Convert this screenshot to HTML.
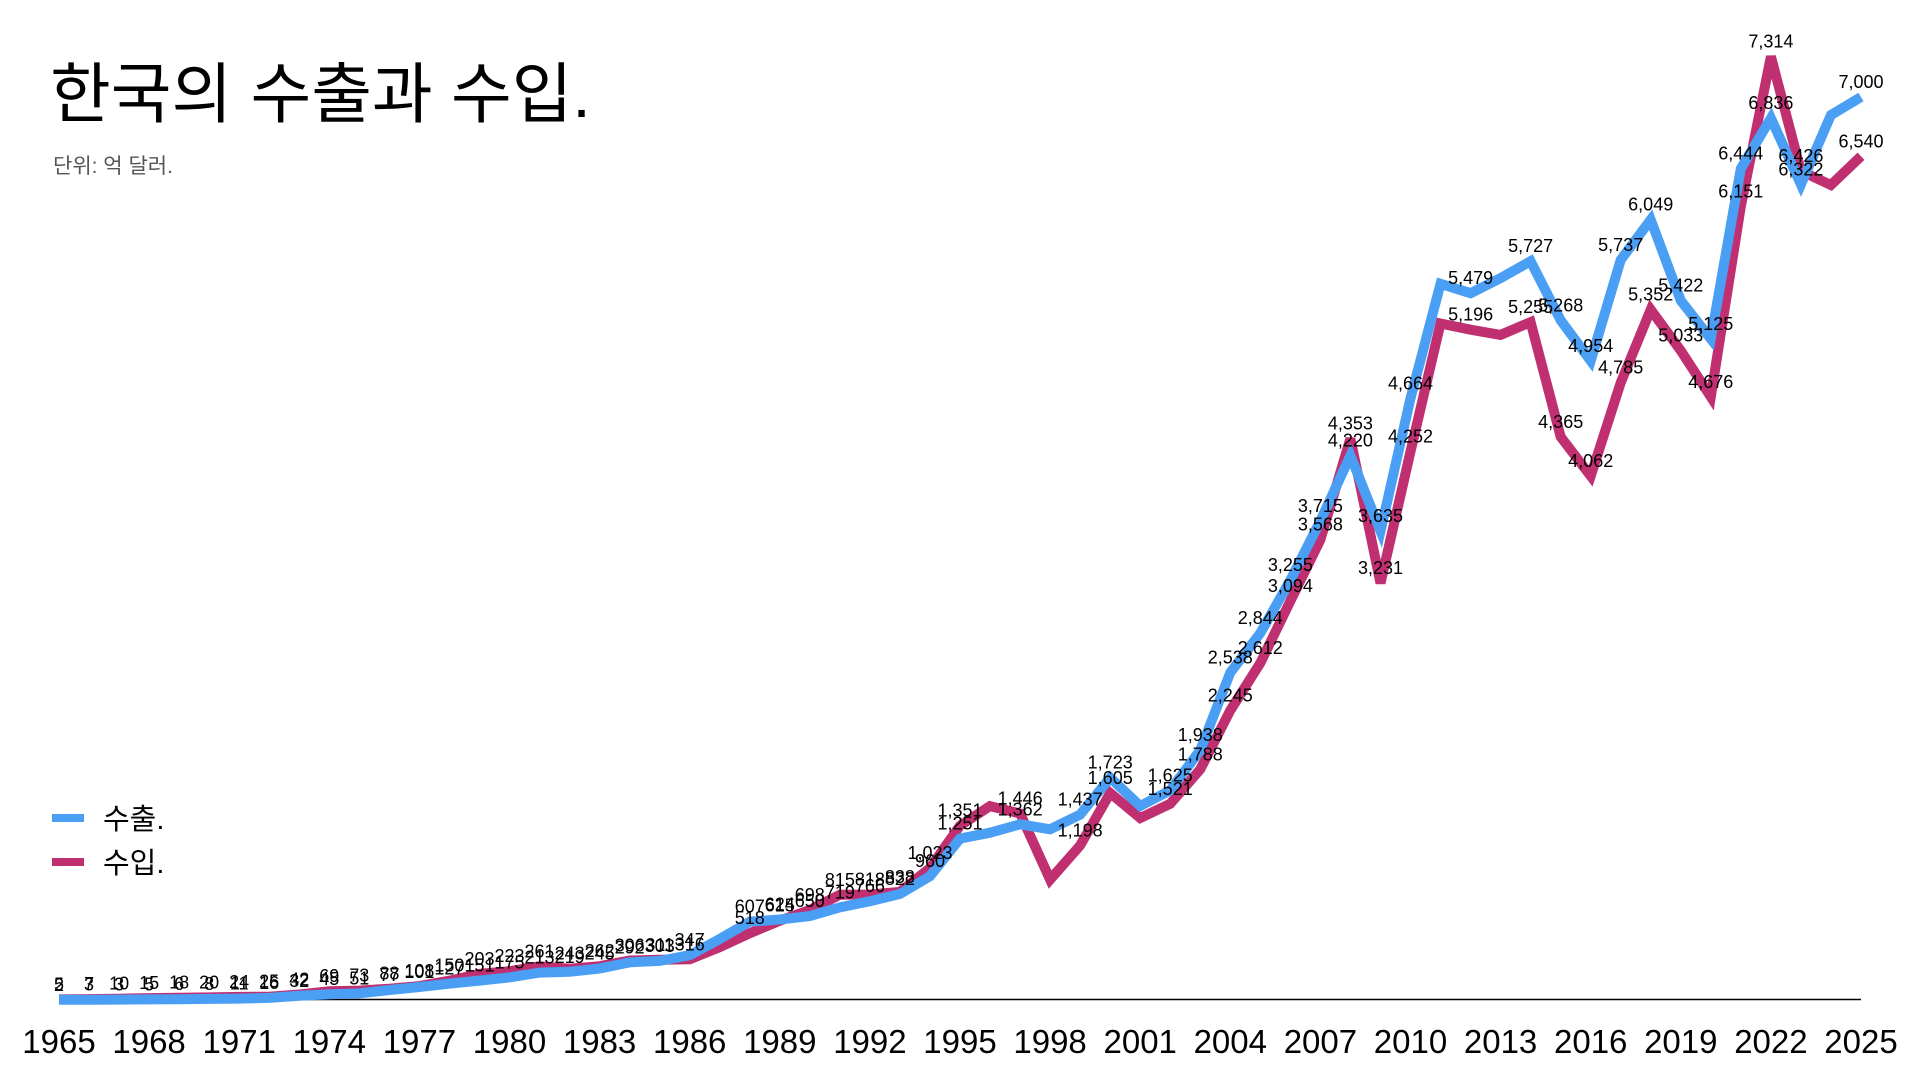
<!DOCTYPE html>
<html><head><meta charset="utf-8"><style>
html,body{margin:0;padding:0;background:#fff;width:1920px;height:1080px;overflow:hidden}
svg{display:block}
text{font-family:"Liberation Sans","Noto Sans CJK KR",sans-serif}
</style></head><body>
<svg id="c" width="1920" height="1080" xmlns="http://www.w3.org/2000/svg">
<text x="50" y="117" font-size="66" fill="#000">한국의 수출과 수입.</text>
<text x="53" y="173" font-size="21" fill="#555">단위: 억 달러.</text>
<line x1="59" y1="999.5" x2="1861" y2="999.5" stroke="#000" stroke-width="1.5"/>
<line x1="52" y1="818" x2="84" y2="818" stroke="#4a9ff5" stroke-width="8"/>
<text x="103" y="829" font-size="29">수출.</text>
<line x1="52" y1="862" x2="84" y2="862" stroke="#c03070" stroke-width="8"/>
<text x="103" y="873" font-size="29">수입.</text>
<g id="g"></g>
</svg>
<script>
var ex=[1.75,2.5,3.2,4.55,6.2,8.35,10.7,16.2,32.25,44.6,50.8,77.15,100.5,127.1,150.5,175,212.5,218.5,244.5,292.4,302.8,347,472.8,607,623.8,650,718.7,766,822,960,1251,1297,1362,1323,1437,1723,1504,1625,1938,2538,2844,3255,3715,4220,3635,4664,5552,5479,5596,5727,5268,4954,5737,6049,5422,5125,6444,6836,6322,6860,7000];
var im=[4.6,7.2,9.96,14.6,18.2,19.8,23.9,25.2,42.4,68.5,72.7,87.7,108.1,149.7,203.4,222.9,261.3,242.5,261.9,306.3,311.4,315.8,410.2,518.1,614.6,698.4,815.2,817.8,838,1023,1351,1503,1446,933,1198,1605,1411,1521,1788,2245,2612,3094,3568,4353,3231,4252,5244,5196,5156,5255,4365,4062,4785,5352,5033,4676,6151,7314,6426,6318,6540];
var skip={1987:1,1996:1,1998:1,2001:1,2011:1,2013:1,2024:1};
function X(i){return 59+i*30.033}
function Y(v){return 1000-v*0.129}
var g=document.getElementById('g'),s='';
function path(d,c){var p='';d.forEach(function(v,i){p+=(i?'L':'M')+X(i).toFixed(1)+' '+Y(v).toFixed(1)});return '<path d="'+p+'" fill="none" stroke="'+c+'" stroke-width="10" stroke-linejoin="miter"/>'}
s+=path(im,'#c03070');s+=path(ex,'#4a9ff5');
function fmt(v){return Math.round(v).toLocaleString('en-US')}
function lab(d,isIm){d.forEach(function(v,i){var yr=1965+i;if(skip[yr]&&!(yr==1987&&isIm))return;if(yr==1998&&isIm){}else if(skip[yr])return;
s+='<text x="'+X(i).toFixed(1)+'" y="'+(Y(v)-9).toFixed(1)+'" font-size="18" text-anchor="middle">'+fmt(v)+'</text>'})}
lab(ex,false);lab(im,true);
for(var y=1965;y<=2025;y+=3){s+='<text x="'+X(y-1965).toFixed(1)+'" y="1053" font-size="33" text-anchor="middle">'+y+'</text>'}
g.innerHTML=s;
</script>
</body></html>
